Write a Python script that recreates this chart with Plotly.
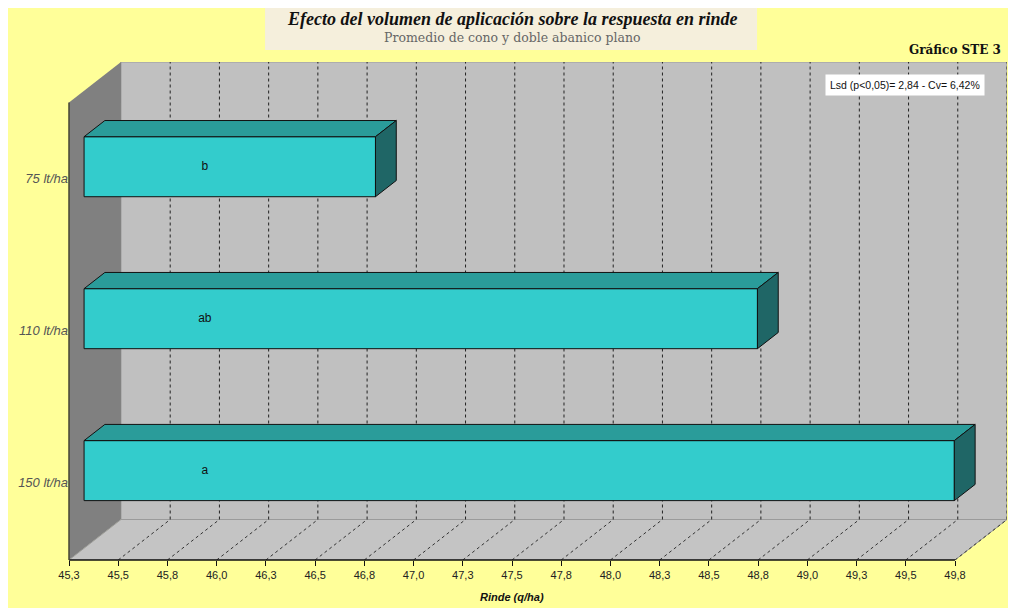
import plotly.graph_objects as go

# Datos del grafico
dosis = ["150 lt/ha", "110 lt/ha", "75 lt/ha"]
rinde = [49.67, 48.67, 46.73]
letras = ["a", "ab", "b"]
tick_labels = ["45,3", "45,5", "45,8", "46,0", "46,3", "46,5", "46,8", "47,0", "47,3", "47,5",
               "47,8", "48,0", "48,3", "48,5", "48,8", "49,0", "49,3", "49,5", "49,8"]

x0 = 45.25
step = 0.25
tick_vals = [x0 + step * i for i in range(len(tick_labels))]
x_end = tick_vals[-1]

# geometria del efecto 3D (profundidad en unidades de datos)
DX, DY = 0.264, 0.2665
f1, f2 = 0.29, 0.69
half = 0.1975
y_floor = -0.511
y_wall = 2.50
y_top = y_wall + DY

fig = go.Figure()

cats = list(range(len(dosis)))

# cara frontal de las barras
fig.add_trace(go.Bar(
    orientation="h",
    y=[c + f1 * DY for c in cats],
    x=[v - x0 for v in rinde],
    base=x0 + f1 * DX,
    width=2 * half,
    marker=dict(color="#33CCCC", line=dict(color="#111111", width=1)),
    hoverinfo="skip",
))

# caras superior y lateral
ddx, ddy = (f2 - f1) * DX, (f2 - f1) * DY
top_x, top_y, side_x, side_y = [], [], [], []
for c, v in zip(cats, rinde):
    xl = x0 + f1 * DX
    xr = v + f1 * DX
    yb = c + f1 * DY - half
    yt = c + f1 * DY + half
    top_x += [xl, xr, xr + ddx, xl + ddx, xl, None]
    top_y += [yt, yt, yt + ddy, yt + ddy, yt, None]
    side_x += [xr, xr, xr + ddx, xr + ddx, xr, None]
    side_y += [yb, yt, yt + ddy, yb + ddy, yb, None]

fig.add_trace(go.Scatter(x=top_x, y=top_y, fill="toself", fillcolor="#2A9C9A",
                         mode="lines", line=dict(color="#111111", width=1), hoverinfo="skip"))
fig.add_trace(go.Scatter(x=side_x, y=side_y, fill="toself", fillcolor="#1F6666",
                         mode="lines", line=dict(color="#111111", width=1), hoverinfo="skip"))

# letras de significancia
fig.add_trace(go.Scatter(
    x=[45.94] * len(cats), y=[c + f1 * DY for c in cats], text=letras, mode="text",
    textfont=dict(family="Liberation Sans", size=12, color="#111111"), hoverinfo="skip",
))

shapes = []
# pared del fondo
shapes.append(dict(type="rect", x0=x0 + DX, x1=x_end + DX, y0=y_floor + DY, y1=y_top,
                   fillcolor="#C0C0C0", line=dict(color="#9A9A9A", width=1), layer="below"))
# pared izquierda
shapes.append(dict(type="path",
                   path=f"M {x0},{y_floor} L {x0},{y_wall} L {x0 + DX},{y_top} L {x0 + DX},{y_floor + DY} Z",
                   fillcolor="#808080", line=dict(width=0), layer="below"))
# piso
shapes.append(dict(type="path",
                   path=f"M {x0},{y_floor} L {x0 + DX},{y_floor + DY} L {x_end + DX},{y_floor + DY} L {x_end},{y_floor} Z",
                   fillcolor="#C4C4C4", line=dict(color="#9A9A9A", width=1), layer="below"))
# lineas de grilla
for tv in tick_vals[1:]:
    shapes.append(dict(type="line", x0=tv + DX, x1=tv + DX, y0=y_floor + DY, y1=y_top,
                       line=dict(color="#222222", width=1, dash="3px,3px"), layer="below"))
    shapes.append(dict(type="line", x0=tv, x1=tv + DX, y0=y_floor, y1=y_floor + DY,
                       line=dict(color="#333333", width=1, dash="3px,3px"), layer="below"))
# ejes
shapes.append(dict(type="line", xref="x", yref="paper", x0=x0, x1=x_end, y0=0, y1=0,
                   line=dict(color="#111111", width=1.5)))
shapes.append(dict(type="line", xref="paper", yref="y", x0=0, x1=0, y0=y_floor, y1=y_wall,
                   line=dict(color="#444433", width=1.5)))
# recuadro del titulo
shapes.append(dict(type="rect", xref="paper", yref="paper", x0=0.209, x1=0.7335, y0=1.024, y1=1.1205,
                   fillcolor="#F5EFDC", line=dict(width=0), layer="below"))

annotations = [
    dict(text="<b><i>Efecto del volumen de aplicación sobre la respuesta en rinde</i></b>",
         xref="paper", yref="paper", x=0.4723, y=1.0863, xanchor="center", yanchor="middle",
         showarrow=False, font=dict(family="Liberation Serif", size=18, color="#111111")),
    dict(text="Promedio de cono y doble abanico plano",
         xref="paper", yref="paper", x=0.4723, y=1.0482, xanchor="center", yanchor="middle",
         showarrow=False, font=dict(family="DejaVu Serif", size=12.5, color="#666666")),
    dict(text="<b>Gráfico STE 3</b>", xref="paper", yref="paper", x=0.9957, y=1.0241,
         xanchor="right", yanchor="middle", showarrow=False,
         font=dict(family="DejaVu Serif", size=12, color="#111111")),
    dict(text="Lsd (p<0,05)= 2,84 - Cv= 6,42%", xref="paper", yref="paper",
         x=0.8913, y=0.9538, xanchor="center", yanchor="middle", showarrow=False,
         bgcolor="#FFFFFF", borderpad=4,
         font=dict(family="Liberation Sans", size=10.5, color="#111111")),
    dict(text="<b><i>Rinde (q/ha)</i></b>", xref="paper", yref="paper", x=0.4718, y=-0.0735,
         xanchor="center", yanchor="middle", showarrow=False,
         font=dict(family="Liberation Sans", size=11, color="#111111")),
]

# la pagina tiene 8 px de margen en el body: la figura se achica 8 px para calzar
fig.update_layout(
    width=1008, height=600,
    margin=dict(l=61, r=9, t=54, b=48),
    paper_bgcolor="#FFFF99", plot_bgcolor="rgba(0,0,0,0)",
    showlegend=False, shapes=shapes, annotations=annotations,
    xaxis=dict(range=[x0, x_end + DX], tickvals=tick_vals, ticktext=tick_labels,
               ticks="outside", ticklen=5, tickcolor="#111111", showgrid=False,
               zeroline=False, showline=False,
               tickfont=dict(family="Liberation Sans", size=11, color="#222222")),
    yaxis=dict(range=[y_floor, y_top], tickvals=cats, ticktext=[f"<i>{d}</i>" for d in dosis],
               showgrid=False, zeroline=False, showline=False, ticks="",
               tickfont=dict(family="Liberation Sans", size=13, color="#555555")),
)

fig.write_html("out.html")
